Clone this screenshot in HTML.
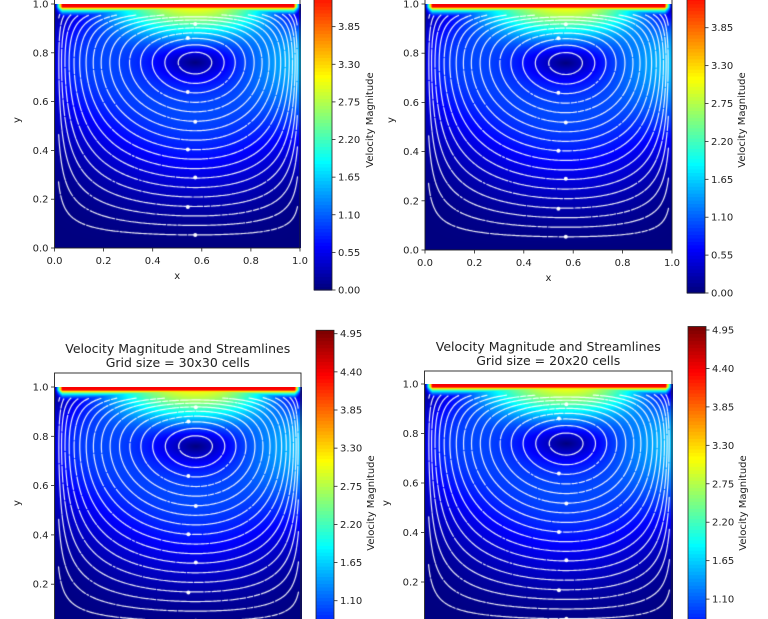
<!DOCTYPE html>
<html><head><meta charset="utf-8">
<style>
html,body{margin:0;padding:0;background:#fff;width:768px;height:619px;overflow:hidden;font-family:"DejaVu Sans","Liberation Sans",sans-serif}
#wrap{position:relative;width:768px;height:619px;overflow:hidden}
canvas{position:absolute}
svg{position:absolute;left:0;top:0}
</style></head><body>
<div id="wrap">
<svg id="ov" width="768" height="619"></svg>
</div>
<script>
// ---- data ----
const axisTicks = [0.0, 0.2, 0.4, 0.6, 0.8, 1.0];
const axisTickLabels = ["0.0","0.2","0.4","0.6","0.8","1.0"];
const cbTicks = [0.00,0.55,1.10,1.65,2.20,2.75,3.30,3.85,4.40,4.95];
const cbTickLabels = ["0.00","0.55","1.10","1.65","2.20","2.75","3.30","3.85","4.40","4.95"];
const vortexCenter = [0.57, 0.76];
const lidSpeed = [4.4];
const vmin = 0, vmax = 5.0;
const gridSizes = ["", "", "30x30", "20x20"];

const panels = [
 {id:"tl", x0:54.5, x1:300, yZero:248, yOne:4, boxTop:-8, cbX:314, cbZero:290, cbPx:68.4, title:false, xlab:true, ylabX:20, cbLabX:373},
 {id:"tr", x0:425, x1:672, yZero:250, yOne:4, boxTop:-8, cbX:687, cbZero:293, cbPx:68.9, title:false, xlab:true, ylabX:394, cbLabX:745},
 {id:"bl", x0:54.5, x1:301, yZero:633.5, yOne:387, boxTop:373, cbX:316, cbZero:677, cbPx:69.35, title:true, xlab:false, ylabX:20, cbLabX:374, gi:2},
 {id:"br", x0:424.5, x1:672, yZero:631.5, yOne:384, boxTop:371, cbX:688, cbZero:676, cbPx:69.9, title:true, xlab:false, ylabX:389, cbLabX:746, gi:3}
];

function jet(t){t=Math.max(0,Math.min(1,t));
 const c=v=>Math.max(0,Math.min(1,v));
 return [c(1.5-Math.abs(4*t-3))*255,c(1.5-Math.abs(4*t-2))*255,c(1.5-Math.abs(4*t-1))*255];}

const A=Math.log(0.5)/Math.log(vortexCenter[0]);
const B=Math.log(0.5)/Math.log(vortexCenter[1]);
function psi(x,y){const X=Math.pow(Math.max(x,0),A),Y=Math.pow(Math.max(y,0),B);return Math.sin(Math.PI*X)*Math.sin(Math.PI*Y);}
function speed(x,y){const h=1e-3;
 const dx=(psi(x+h,y)-psi(x-h,y))/(2*h),dy=(psi(x,y+h)-psi(x,y-h))/(2*h);
 let v=0.4*Math.sqrt(dx*dx+dy*dy);
 const edge=Math.max(0,Math.min(1,x/0.03,(1-x)/0.03));
 const lid=lidSpeed[0]*Math.exp(-Math.max(0,(1-y)-0.012)/0.02)*edge;
 return Math.max(v,lid);}

const NS="http://www.w3.org/2000/svg";
const ov=document.getElementById('ov');
const wrap=document.getElementById('wrap');
function mk(tag,attrs,name,txt){const e=document.createElementNS(NS,tag);
 for(const k in attrs)e.setAttribute(k,attrs[k]);
 
 
 if(txt!==undefined)e.textContent=txt;ov.appendChild(e);return e;}

panels.forEach(p=>{
 const sx=v=>p.x0+v*(p.x1-p.x0);
 const sy=v=>p.yZero-v*(p.yZero-p.yOne);
 const W=Math.round(p.x1-p.x0),H=Math.round(p.yZero-p.yOne);
 const Hv=Math.min(H,619-Math.round(p.yOne));
 const cv=document.createElement('canvas');cv.width=W;cv.height=Hv;
 cv.style.left=p.x0+'px';cv.style.top=p.yOne+'px';
 
 
 wrap.insertBefore(cv,ov);
 const ctx=cv.getContext('2d');const img=ctx.createImageData(W,Hv);
 for(let j=0;j<Hv;j++){const y=1-(j+0.5)/H;for(let i=0;i<W;i++){const x=(i+0.5)/W;
  const c=jet((speed(x,y)-vmin)/(vmax-vmin));const k=(j*W+i)*4;
  img.data[k]=c[0];img.data[k+1]=c[1];img.data[k+2]=c[2];img.data[k+3]=255;}}
 ctx.putImageData(img,0,0);
 const N=140;const G=[];for(let j=0;j<=N;j++){G.push([]);for(let i=0;i<=N;i++)G[j].push(psi(i/N,j/N));}
 const levels=[];const nL=18;
 for(let k=1;k<=nL;k++){const y=vortexCenter[1]*k/(nL+1)*0.97+0.015;levels.push(psi(vortexCenter[0],y));}
 ctx.strokeStyle='rgba(255,255,255,0.92)';ctx.lineWidth=1.2;ctx.lineCap='round';
 const px=x=>x*W,py=y=>(1-y)*H;
 levels.forEach((L,li)=>{ctx.beginPath();
  for(let j=0;j<N;j++)for(let i=0;i<N;i++){
   const v=[G[j][i],G[j][i+1],G[j+1][i+1],G[j+1][i]];
   const pts=[[i,j],[i+1,j],[i+1,j+1],[i,j+1]];const cr=[];
   for(let e=0;e<4;e++){const a=v[e],b=v[(e+1)%4];
    if((a-L)*(b-L)<0){const t=(L-a)/(b-a);const P=pts[e],Q=pts[(e+1)%4];
     cr.push([(P[0]+t*(Q[0]-P[0]))/N,(P[1]+t*(Q[1]-P[1]))/N]);}}
   if(cr.length>=2){
    if(cr[0][1]>0.955||cr[0][0]<0.015||cr[0][0]>0.985)continue;
    const gap=((i*7+j*13+li*5)%41)<2; if(gap)continue;
    ctx.moveTo(px(cr[0][0]),py(cr[0][1]));ctx.lineTo(px(cr[1][0]),py(cr[1][1]));
    if(cr.length===4){ctx.moveTo(px(cr[2][0]),py(cr[2][1]));ctx.lineTo(px(cr[3][0]),py(cr[3][1]));}}
  }ctx.stroke();});
 ctx.fillStyle='#fff';
 levels.forEach((L,li)=>{if(li%3)return;
  for(let j=2;j<N-8;j+=1){const x=vortexCenter[0]-0.03*(li%2);const i=Math.round(x*N);
   if((G[j][i]-L)*(G[j+1][i]-L)<0){ctx.beginPath();ctx.arc(px(x),py((j+0.5)/N),2,0,7);ctx.fill();}}});
 const top=p.boxTop;
 mk('rect',{x:p.x0,y:top,width:p.x1-p.x0,height:p.yZero-top,fill:'none',stroke:'#222','stroke-width':0.9},'axes-frame-'+p.id);
 axisTicks.forEach((t,k)=>{const y=sy(t);if(y>619)return;
  mk('line',{x1:p.x0-3.5,x2:p.x0,y1:y,y2:y,stroke:'#222','stroke-width':0.8},'y-tick-'+p.id);
  mk('text',{x:p.x0-6,y:y+3.5,'font-size':10,'text-anchor':'end',fill:'#222'},'y-tick-label-'+p.id,axisTickLabels[k]);});
 if(p.xlab){axisTicks.forEach((t,k)=>{const x=sx(t);
  mk('line',{x1:x,x2:x,y1:p.yZero,y2:p.yZero+3.5,stroke:'#222','stroke-width':0.8},'x-tick-'+p.id);
  mk('text',{x:x,y:p.yZero+16,'font-size':10,'text-anchor':'middle',fill:'#222'},'x-tick-label-'+p.id,axisTickLabels[k]);});
  mk('text',{x:(p.x0+p.x1)/2,y:p.yZero+31,'font-size':10,'text-anchor':'middle',fill:'#222'},'x-axis-title-'+p.id,'x');}
 const ymid=p.xlab?120:503;
 mk('text',{x:p.ylabX,y:ymid,'font-size':10,'text-anchor':'middle',fill:'#222',transform:`rotate(-90 ${p.ylabX} ${ymid})`},'y-axis-title-'+p.id,'y');
 if(p.title){const cx=(p.x0+p.x1)/2;
  mk('text',{x:cx,y:p.boxTop-20,'font-size':12.5,'text-anchor':'middle',fill:'#222'},'chart-title-'+p.id,'Velocity Magnitude and Streamlines');
  mk('text',{x:cx,y:p.boxTop-6,'font-size':12.5,'text-anchor':'middle',fill:'#222'},'chart-subtitle-'+p.id,'Grid size = '+gridSizes[p.gi]+' cells');}
 const cby=v=>p.cbZero-v*p.cbPx;
 const steps=100;
 for(let s=0;s<steps;s++){const v0=vmin+(vmax-vmin)*s/steps,v1=vmin+(vmax-vmin)*(s+1)/steps;
  if(cby(v1)>619)continue;const c=jet(s/(steps-1));
  mk('rect',{x:p.cbX,y:cby(v1),width:18,height:Math.min(cby(v0),619)-cby(v1)+0.6,fill:`rgb(${c[0]|0},${c[1]|0},${c[2]|0})`},'colorbar-segment-'+p.id);}
 const fb=Math.min(cby(vmin),640);
 mk('rect',{x:p.cbX,y:cby(vmax),width:18,height:fb-cby(vmax),fill:'none',stroke:'#222','stroke-width':0.8},'colorbar-frame-'+p.id);
 cbTicks.forEach((t,k)=>{const y=cby(t);if(y<-5||y>612)return;
  mk('line',{x1:p.cbX+18,x2:p.cbX+21.5,y1:y,y2:y,stroke:'#222','stroke-width':0.8},'colorbar-tick-'+p.id);
  mk('text',{x:p.cbX+24,y:y+3.5,'font-size':10,fill:'#222'},'colorbar-tick-label-'+p.id,cbTickLabels[k]);});
 mk('text',{x:p.cbLabX,y:ymid,'font-size':10,'text-anchor':'middle',fill:'#222',transform:`rotate(-90 ${p.cbLabX} ${ymid})`},'colorbar-title-'+p.id,'Velocity Magnitude');
});
</script>
</body></html>
